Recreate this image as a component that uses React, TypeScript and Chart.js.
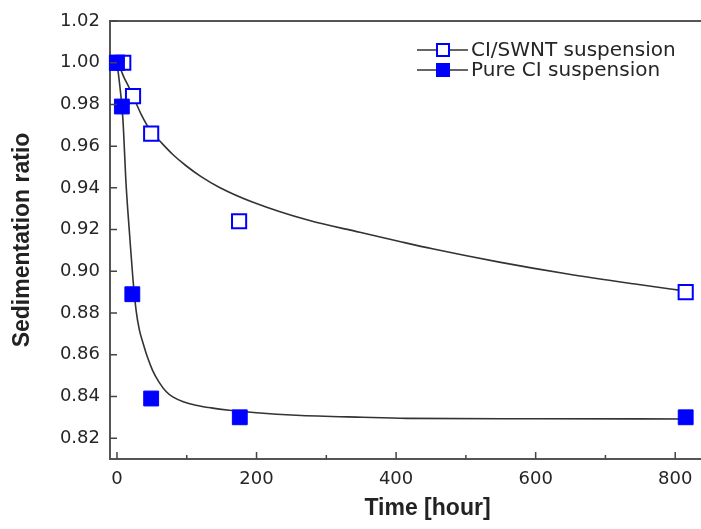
import React, { useEffect, useRef } from "react";
import { Chart, registerables } from "chart.js";

Chart.register(...registerables);

// Measured points
const swntTime = [0, 9, 23, 49, 175, 815];
const swntRatio = [1.0, 1.0, 0.984, 0.966, 0.924, 0.89];
const pureTime = [0, 7, 22, 49, 176, 815];
const pureRatio = [1.0, 0.979, 0.889, 0.839, 0.83, 0.83];

// Fitted curves
const swntFitTime = [0, 5, 10, 16, 23, 35, 49, 61, 80, 99, 120, 147, 195, 276, 348, 405, 452, 548, 644, 740, 816];
const swntFitRatio = [1.0, 0.997, 0.993, 0.989, 0.984, 0.975, 0.967, 0.9626, 0.956, 0.9506, 0.9455, 0.9402, 0.9331, 0.9243, 0.9187, 0.9143, 0.9108, 0.9044, 0.8988, 0.894, 0.8905];
const pureFitTime = [0, 3, 8.3, 13, 18, 22.7, 27.5, 32, 37, 44, 51, 60, 70, 80, 95, 113, 135, 161, 200, 257, 352, 415, 600, 816];
const pureFitRatio = [1.0, 0.992, 0.974, 0.942, 0.918, 0.897, 0.881, 0.872, 0.866, 0.8585, 0.8525, 0.847, 0.8425, 0.8398, 0.8375, 0.8358, 0.8345, 0.8334, 0.8322, 0.831, 0.83, 0.8295, 0.8293, 0.8292];

// Axes
const xTicks = [0, 200, 400, 600, 800];
const xMinorTicks = [0, 100, 300, 500, 700];
const yTicks = [0.82, 0.84, 0.86, 0.88, 0.9, 0.92, 0.94, 0.96, 0.98, 1.0, 1.02];
const xTitle = "Time [hour]";
const yTitle = "Sedimentation ratio";
const legendLabels = ["CI/SWNT suspension", "Pure CI suspension"];

const BLUE = "#0000ff";
const AXIS = "#555555";
const TEXT = "#262626";

const zip = (xs: number[], ys: number[]) => xs.map((x, i) => ({ x, y: ys[i] }));

const decorPlugin = {
  id: "decor",
  afterDraw(chart: any) {
    const { ctx, chartArea } = chart;
    const xs = chart.scales.x;
    const ys = chart.scales.y;
    ctx.save();
    // top border
    ctx.strokeStyle = AXIS;
    ctx.lineWidth = 2;
    ctx.beginPath();
    ctx.moveTo(chartArea.left - 1, chartArea.top);
    ctx.lineTo(chartArea.right + 1, chartArea.top);
    ctx.stroke();
    // inward ticks
    ctx.lineWidth = 1.5;
    ctx.strokeStyle = "#444";
    ctx.beginPath();
    yTicks.forEach((v) => {
      const p = ys.getPixelForValue(v);
      ctx.moveTo(chartArea.left, p);
      ctx.lineTo(chartArea.left + 7, p);
    });
    xTicks.forEach((v) => {
      const p = xs.getPixelForValue(v);
      ctx.moveTo(p, chartArea.bottom);
      ctx.lineTo(p, chartArea.bottom - 7);
    });
    xMinorTicks.forEach((v) => {
      const p = xs.getPixelForValue(v);
      ctx.moveTo(p, chartArea.bottom);
      ctx.lineTo(p, chartArea.bottom - 4);
    });
    ctx.stroke();

    // legend
    const lx = chartArea.left + 307;
    const rows = [chartArea.top + 29, chartArea.top + 49];
    legendLabels.forEach((label, i) => {
      const y = rows[i];
      ctx.strokeStyle = "#333";
      ctx.lineWidth = 1.5;
      ctx.beginPath();
      ctx.moveTo(lx, y);
      ctx.lineTo(lx + 51, y);
      ctx.stroke();
      const s = 14;
      if (i === 0) {
        ctx.fillStyle = "#fff";
        ctx.fillRect(lx + 26 - s / 2, y - s / 2, s, s);
        ctx.strokeStyle = BLUE;
        ctx.lineWidth = 2;
        ctx.strokeRect(lx + 26 - s / 2 + 1, y - s / 2 + 1, s - 2, s - 2);
      } else {
        ctx.fillStyle = BLUE;
        ctx.fillRect(lx + 26 - s / 2, y - s / 2, s, s);
      }
      ctx.fillStyle = TEXT;
      ctx.font = "20px 'DejaVu Sans'";
      ctx.textBaseline = "middle";
      ctx.textAlign = "left";
      ctx.fillText(label, lx + 54, y + 1);
    });
    ctx.restore();
  },
};

export default function App() {
  const ref = useRef<HTMLCanvasElement | null>(null);

  useEffect(() => {
    if (!ref.current) return;
    const chart = new Chart(ref.current, {
      type: "scatter",
      data: {
        datasets: [
          {
            label: legendLabels[1],
            data: zip(pureTime, pureRatio),
            showLine: false,
            pointStyle: "rect",
            pointRadius: 10.5,
            backgroundColor: BLUE,
            borderColor: BLUE,
            borderWidth: 1,
            clip: false,
          } as any,
          {
            label: legendLabels[0],
            data: zip(swntTime, swntRatio),
            showLine: false,
            pointStyle: "rect",
            pointRadius: 10,
            backgroundColor: "#ffffff",
            borderColor: BLUE,
            borderWidth: 2,
            clip: false,
          } as any,
          {
            label: "fit1",
            data: zip(swntFitTime, swntFitRatio),
            showLine: true,
            pointRadius: 0,
            borderColor: "#333333",
            borderWidth: 1.6,
            cubicInterpolationMode: "monotone",
          } as any,
          {
            label: "fit2",
            data: zip(pureFitTime, pureFitRatio),
            showLine: true,
            pointRadius: 0,
            borderColor: "#333333",
            borderWidth: 1.6,
            cubicInterpolationMode: "monotone",
          } as any,
        ],
      },
      options: {
        responsive: false,
        animation: false,
        events: [],
        devicePixelRatio: 1,
        layout: { padding: { top: 21, right: 15, left: 0, bottom: 0 } },
        plugins: { legend: { display: false }, tooltip: { enabled: false } },
        scales: {
          x: {
            type: "linear",
            min: -10,
            max: 900,
            afterBuildTicks: (scale: any) => {
              scale.ticks = xTicks.map((v) => ({ value: v }));
            },
            afterFit: (scale: any) => {
              scale.height = 70;
            },
            grid: { display: true, drawOnChartArea: false, drawTicks: false },
            border: { display: true, color: AXIS, width: 2 },
            ticks: {
              padding: 10,
              color: TEXT,
              font: { family: "'DejaVu Sans'", size: 18 },
              callback: (v: any) => String(v),
            },
            title: {
              display: true,
              text: xTitle,
              color: "#222",
              font: { family: "'Liberation Sans'", size: 23, weight: "bold" },
              padding: { top: 0, bottom: 7 },
            },
          },
          y: {
            type: "linear",
            min: 0.81,
            max: 1.02,
            afterBuildTicks: (scale: any) => {
              scale.ticks = yTicks.map((v) => ({ value: v }));
            },
            afterFit: (scale: any) => {
              scale.width = 110;
            },
            grid: { display: true, drawOnChartArea: false, drawTicks: false },
            border: { display: true, color: AXIS, width: 2 },
            ticks: {
              padding: 10,
              color: TEXT,
              font: { family: "'DejaVu Sans'", size: 18 },
              callback: (v: any) => Number(v).toFixed(2),
            },
            title: {
              display: true,
              text: yTitle,
              color: "#222",
              font: { family: "'Liberation Sans'", size: 23, weight: "bold" },
              padding: { top: 9, bottom: 0 },
            },
          },
        },
      },
      plugins: [decorPlugin],
    });
    return () => chart.destroy();
  }, []);

  return (
    <div
      style={{
        position: "fixed",
        left: 0,
        top: 0,
        width: 701,
        height: 529,
        overflow: "hidden",
        background: "#fff",
      }}
    >
      <canvas ref={ref} width={760} height={529} />
    </div>
  );
}
